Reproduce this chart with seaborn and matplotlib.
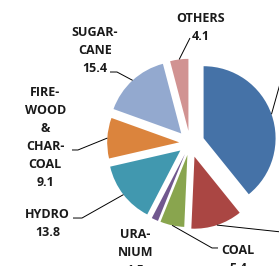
import numpy as np
import matplotlib
matplotlib.use("Agg")
import matplotlib.pyplot as plt
import seaborn as sns

sns.set_style("white")
plt.rcParams['font.family'] = ['Open Sans', 'DejaVu Sans']

# energy matrix shares (%), clockwise from 12 o'clock
sources = ['OIL', 'NATURAL\nGAS', 'COAL', 'URA-\nNIUM', 'HYDRO',
           'FIRE-\nWOOD\n&\nCHAR-\nCOAL', 'SUGAR-\nCANE', 'OTHERS']
shares = [39.2, 11.5, 5.4, 1.5, 13.8, 9.1, 15.4, 4.1]
colors = ['#4572A7', '#AA4643', '#89A54E', '#71588F', '#4198AF',
          '#DB843D', '#93A9CF', '#D19392']
explode = [0.2, 0.2, 0.17, 0.17, 0.17, 0.15, 0.18, 0.17]

# label block centres and leader elbow/end (pie radius = 1)
label_pos = [(2.3, 1.1), (2.4, -1.3), (0.67, -1.62), (-0.76, -1.52),
             (-1.98, -1.115), (-2.01, 0.08), (-1.32, 1.29), (0.15, 1.60)]
leaders = [[(1.30, 1.00)],
           [(1.40, -1.25)],
           [(0.306, -1.458), (0.389, -1.458)],
           [],
           [(-1.50, -1.042), (-1.625, -1.042)],
           [(-1.556, -0.097), (-1.639, -0.097)],
           [(-1.014, 0.986), (-1.111, 0.986)],
           [(0.0, 1.458)]]

W, H = 279, 266
cx, cy, R = 190, 143, 72.0

fig = plt.figure(figsize=(W / 100, H / 100), dpi=100)
ax = fig.add_axes([0, 0, 1, 1])

wedges, _ = ax.pie(shares, colors=colors, explode=explode, startangle=90,
                   counterclock=False, radius=1,
                   wedgeprops=dict(linewidth=0))

start = 90.0
for i, w in enumerate(wedges):
    mid = np.deg2rad(start - shares[i] * 3.6 / 2)
    start -= shares[i] * 3.6
    r0 = 1 + explode[i]
    pts = [(r0 * np.cos(mid), r0 * np.sin(mid))] + leaders[i]
    if len(pts) > 1:
        xs, ys = zip(*pts)
        ax.plot(xs, ys, color='black', lw=0.7, solid_capstyle='butt')
    lx, ly = label_pos[i]
    ax.text(lx, ly, f"{sources[i]}\n{shares[i]}", ha='center', va='center',
            fontsize=9.0, fontweight='bold', color='#1a1a1a', linespacing=1.5)

ax.set_xlim(-cx / R, (W - cx) / R)
ax.set_ylim(-(H - cy) / R, cy / R)
ax.set_aspect('auto')
ax.axis('off')

fig.savefig('out.png', dpi=100)
